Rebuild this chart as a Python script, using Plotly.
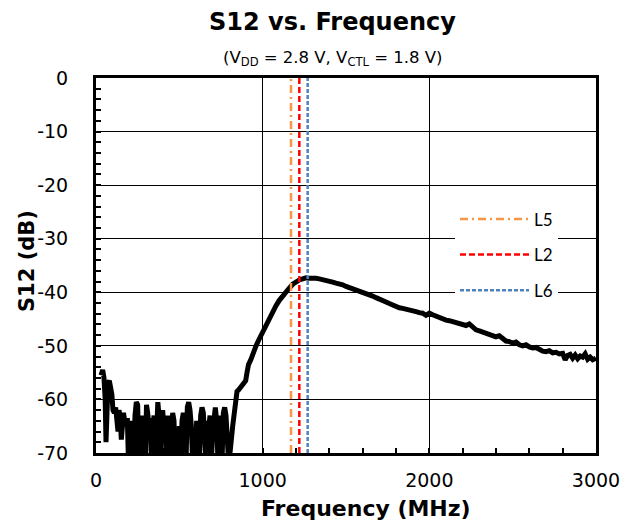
import plotly.graph_objects as go

# ---- data ----
# noisy low-frequency floor (values below -70 are clipped by the axis)
freq_low = [30, 40, 48, 55, 60, 66, 72, 80, 88, 95, 102, 110, 118, 125, 132, 138, 145, 152, 158, 165,
            172, 180, 188, 195, 203, 210, 218, 226, 234, 242, 250, 258, 265, 272, 280, 288, 296, 303, 310, 318,
            325, 333, 340, 348, 356, 364, 371, 378, 386, 393, 400, 408, 415, 423, 430, 437, 445, 452, 460, 468,
            476, 484, 492, 500, 508, 516, 524, 532, 540, 548, 556, 564, 572, 580, 588, 596, 604, 612, 620, 628,
            636, 644, 652, 660, 668, 676, 684, 692, 700, 708, 716, 724, 732, 740, 748, 756, 764, 772, 780, 788,
            796, 804, 812, 820, 828, 836, 846, 856, 866, 876, 888, 898, 906]
s12_low = [-55.5, -54.5, -56, -60, -68, -60, -57, -56.5, -58, -59, -62, -62.5, -61.5, -64, -66, -62, -63.5, -67.5, -64, -62.5,
           -64, -65, -63.5, -72, -66, -72, -64, -72, -63, -60.5, -61, -72, -68, -63, -72, -64, -72, -61, -62.5, -65,
           -63.5, -72, -66, -63, -72, -61.5, -60.5, -63, -72, -64, -62, -65.5, -63, -72, -64.5, -72, -63, -72, -62.5, -64,
           -72, -66, -72, -65, -72, -64, -62.5, -64, -72, -61.5, -60.5, -62, -65, -72, -66, -72, -64, -67, -72, -63,
           -61.5, -62.5, -66, -72, -64, -65.5, -63, -72, -66, -62, -61.5, -64, -72, -63, -67, -72, -62.5, -61.5, -63, -72,
           -72, -70, -66.5, -65, -63, -60, -58.5, -58.2, -57.8, -57.5, -56.8, -56.5, -55]

# main response (rise, peak and roll-off)
freq_main = [915, 930, 945, 960, 975, 990, 1005, 1020, 1040, 1060, 1080, 1100,
             1120, 1140, 1160, 1180, 1200, 1220, 1240, 1260, 1280, 1300, 1320, 1340, 1360, 1380, 1400, 1420, 1440, 1460, 1480, 1500,
             1520, 1540, 1560, 1580, 1600, 1620, 1640, 1660, 1680, 1700, 1720, 1740, 1760, 1780, 1800, 1820, 1840, 1860, 1880, 1900,
             1920, 1940, 1960, 1980, 2000, 2020, 2040, 2060, 2080, 2100, 2120, 2140, 2160, 2180, 2200, 2220, 2240, 2260, 2280, 2300,
             2320, 2340, 2360, 2380, 2400, 2420, 2440, 2460, 2480, 2500, 2520, 2540, 2560, 2580, 2600, 2620, 2640, 2660, 2680, 2700,
             2720, 2740, 2760, 2780, 2800, 2815, 2830, 2845, 2860, 2875, 2890, 2905, 2920, 2935, 2950, 2965, 2980, 3000]
s12_main = [-53.5, -52.5, -51, -50, -49, -48, -47, -46, -45, -43.8, -42.5, -41.5,
            -40.6, -40, -39.2, -38.5, -38, -37.7, -37.5, -37.3, -37.4, -37.3, -37.4, -37.5, -37.6, -37.8, -38, -38.1, -38.3, -38.4, -38.6, -38.9,
            -39.1, -39.3, -39.6, -39.8, -40, -40.2, -40.4, -40.7, -41, -41.2, -41.4, -41.8, -42.1, -42.4, -42.6, -42.9, -43, -43.1, -43.3, -43.5,
            -43.6, -43.8, -43.9, -44.3, -43.9, -44.2, -44.5, -44.8, -45, -45.2, -45.3, -45.5, -45.7, -45.9, -46.1, -46.2, -45.9, -46.6, -47, -47.2,
            -47.4, -47.8, -47.9, -48.1, -48.3, -48.1, -48.7, -49.1, -49.2, -49.5, -49.3, -49.8, -50, -49.8, -50.2, -50.4, -50.3, -50.7, -51, -51.1,
            -50.9, -51.3, -51.2, -51.5, -51.4, -52.6, -51.8, -51.6, -52.3, -51.7, -52.4, -51.9, -52.1, -51.5, -52.5, -52.1, -52.6, -52.3]

freq_mhz = freq_low + freq_main
s12_db = s12_low + s12_main

marker_names = ["L5", "L2", "L6"]
marker_freqs = [1170, 1220, 1270]
marker_colors = ["#F79646", "#FF0000", "#4F81BD"]
marker_dashes = ["8px,4px,2px,4px", "6px,3px", "4px,2px"]

x_ticks = [0, 1000, 2000, 3000]
y_ticks = [0, -10, -20, -30, -40, -50, -60, -70]

FONT = "DejaVu Sans"

fig = go.Figure()
fig.add_trace(go.Scatter(x=freq_mhz, y=s12_db, mode="lines",
                         line=dict(color="black", width=5),
                         showlegend=False, hoverinfo="skip"))

shapes = []
for i, (n, f, c, d) in enumerate(zip(marker_names, marker_freqs, marker_colors, marker_dashes)):
    shapes.append(dict(type="line", xref="x", yref="y domain", x0=f, x1=f, y0=0, y1=1,
                       line=dict(color=c, width=2.5, dash=d),
                       showlegend=True, name=n, legendgroup=n, legendrank=i + 1))

fig.update_layout(
    width=634, height=522,
    margin=dict(l=96, r=38, t=78, b=69),
    paper_bgcolor="white", plot_bgcolor="white",
    font=dict(family=FONT, color="black", size=19),
    shapes=shapes,
    legend=dict(x=0.718, y=0.671, xanchor="left", yanchor="top",
                bgcolor="white", borderwidth=0,
                font=dict(family="Lato", size=17), tracegroupgap=10.5,
                itemwidth=69),
    xaxis=dict(range=[0, 3000], tickvals=x_ticks, ticktext=[str(v) for v in x_ticks],
               showgrid=True, gridcolor="black", gridwidth=1.3,
               showline=True, linecolor="black", linewidth=3, mirror=True,
               ticks="inside", ticklen=0, zeroline=False, ticklabelstandoff=8,
               minor=dict(dtick=200, ticks="inside", ticklen=5, tickwidth=1.5, tickcolor="black", showgrid=False),
               tickfont=dict(size=19, family=FONT)),
    yaxis=dict(range=[-70, 0], tickvals=y_ticks, ticktext=[str(v) for v in y_ticks],
               showgrid=True, gridcolor="black", gridwidth=1.3,
               showline=True, linecolor="black", linewidth=3, mirror=True,
               ticks="inside", ticklen=0, zeroline=False, ticklabelstandoff=21,
               minor=dict(dtick=2, ticks="inside", ticklen=5, tickwidth=1.5, tickcolor="black", showgrid=False),
               tickfont=dict(size=19, family=FONT)),
    annotations=[
        dict(text="<b>S12 vs. Frequency</b>", xref="paper", yref="paper", x=0.472, y=1,
             xanchor="center", yanchor="middle",
             yshift=56, showarrow=False, font=dict(size=24, family=FONT)),
        dict(text="(V<sub>DD</sub> = 2.8 V, V<sub>CTL</sub> = 1.8 V)", xref="paper", yref="paper",
             x=0.474, y=1, xanchor="center", yanchor="middle", yshift=20, showarrow=False,
             font=dict(size=16.5, family=FONT)),
        dict(text="<b>Frequency (MHz)</b>", xref="paper", yref="paper", x=0.54, y=0,
             xanchor="center", yanchor="middle",
             yshift=-55, showarrow=False, font=dict(size=22, family=FONT)),
        dict(text="<b>S12 (dB)</b>", xref="paper", yref="paper", x=0, y=0.512, textangle=-90,
             xanchor="center", yanchor="middle",
             xshift=-69, showarrow=False, font=dict(size=21, family=FONT)),
    ],
)

fig.write_html("out.html", config={"displayModeBar": False},
               post_script="document.body.style.margin='0';")
